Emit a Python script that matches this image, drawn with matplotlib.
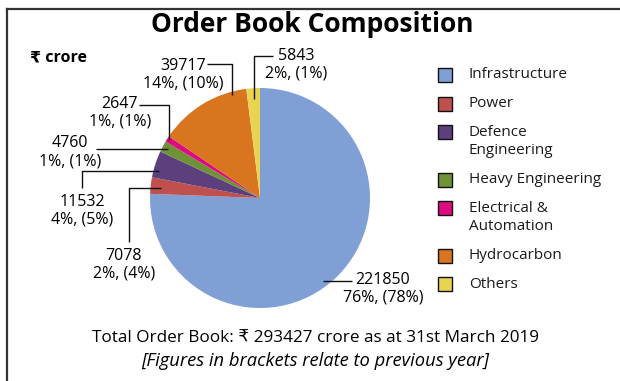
import numpy as np
import matplotlib
matplotlib.use("Agg")
import matplotlib.pyplot as plt
from matplotlib.patches import Rectangle

plt.rcParams['font.family'] = ['Open Sans', 'DejaVu Sans']

# Order book by segment, Rs crore, as at 31 March 2019
segments = ["Infrastructure", "Power", "Defence\nEngineering", "Heavy Engineering",
            "Electrical &\nAutomation", "Hydrocarbon", "Others"]
values = [221850, 7078, 11532, 4760, 2647, 39717, 5843]
share_now = [76, 2, 4, 1, 1, 14, 2]
share_prev = [78, 4, 5, 1, 1, 10, 1]
colors = ["#7f9fd5", "#c0504d", "#5c3f7d", "#6f9234", "#de0a7f", "#d9751e", "#e9d452"]
total = 293427

W, H = 620, 381


def Y(y):
    # layout is worked out in pixels from the top edge
    return H - y


fig = plt.figure(figsize=(W / 100, H / 100), dpi=100)
ax = fig.add_axes([0, 0, 1, 1])

cx, cy, rad = 260, 198, 110
wedges, _ = ax.pie(values, colors=colors, startangle=90, counterclock=False,
                   center=(cx, Y(cy)), radius=rad,
                   wedgeprops=dict(linewidth=0))
ax.set_xlim(0, W)
ax.set_ylim(0, H)
ax.axis("off")

# label block: centre x, first line y, leader type, leader start, spot in wedge
label_pos = [
    (383, 280, "h", (352, None), 0.475, 0.945),
    (124, 256, "vh", (129, 242), 0.6, 0.9),
    (82, 202, "vh", (82, 188), 0.7, 0.95),
    (70, 143, "h", (96, None), 0.5, 0.95),
    (120, 104, "hv", (139, 105), 0.5, 0.98),
    (183, 66, "hv", (207, 64), 0.16, 0.97),
    (296, 56, "hv", (273, 56), 0.5, 0.9),
]

fs_lab = 11.5
for w, v, p, q, (tx, ty, kind, start, f, rf) in zip(wedges, values, share_now,
                                                      share_prev, label_pos):
    a = np.deg2rad(w.theta1 + f * (w.theta2 - w.theta1))
    ex = cx + rf * rad * np.cos(a)
    ey = cy - rf * rad * np.sin(a)
    if kind == "h":
        pts = [(start[0], ey), (ex, ey)]
    elif kind == "hv":
        pts = [start, (ex, start[1]), (ex, ey)]
    else:
        pts = [start, (start[0], ey), (ex, ey)]
    xs = [pt[0] for pt in pts]
    ys = [Y(pt[1]) for pt in pts]
    ax.plot(xs, ys, color="#111", lw=1.0, solid_capstyle="butt")
    ax.text(tx, Y(ty), f"{v}", ha="center", va="center", fontsize=fs_lab, color="#000")
    ax.text(tx, Y(ty + 18), f"{p}%, ({q}%)", ha="center", va="center",
            fontsize=fs_lab, color="#000")

# legend
ly = 75
for name, c in zip(segments, colors):
    ax.add_patch(Rectangle((438, Y(ly + 7)), 14, 14, facecolor=c,
                           edgecolor="#111", lw=1.0))
    for i, line in enumerate(name.split("\n")):
        ax.text(469, Y(ly + 19 * i), line, ha="left", va="center",
                fontsize=11, color="#1a1a1a")
    ly += 28.5 + 19 * name.count("\n")

# frame lines on top and left
ax.plot([6.5, 6.5], [Y(9), 0], color="#333", lw=1.6)
ax.plot([6.5, W], [Y(9), Y(9)], color="#333", lw=1.6)

ax.text(312, Y(25), "Order Book Composition", ha="center", va="center",
        fontsize=19, fontweight="bold", color="#000")
ax.text(30, Y(57), "₹ crore", ha="left", va="center", fontsize=11.5,
        fontweight="bold", color="#000")
ax.text(315, Y(338), f"Total Order Book: ₹ {total} crore as at 31st March 2019",
        ha="center", va="center", fontsize=12.3, color="#000")
ax.text(315, Y(361), "[Figures in brackets relate to previous year]",
        ha="center", va="center", fontsize=13.2, style="italic", color="#000")

fig.savefig("out.png", dpi=100)
